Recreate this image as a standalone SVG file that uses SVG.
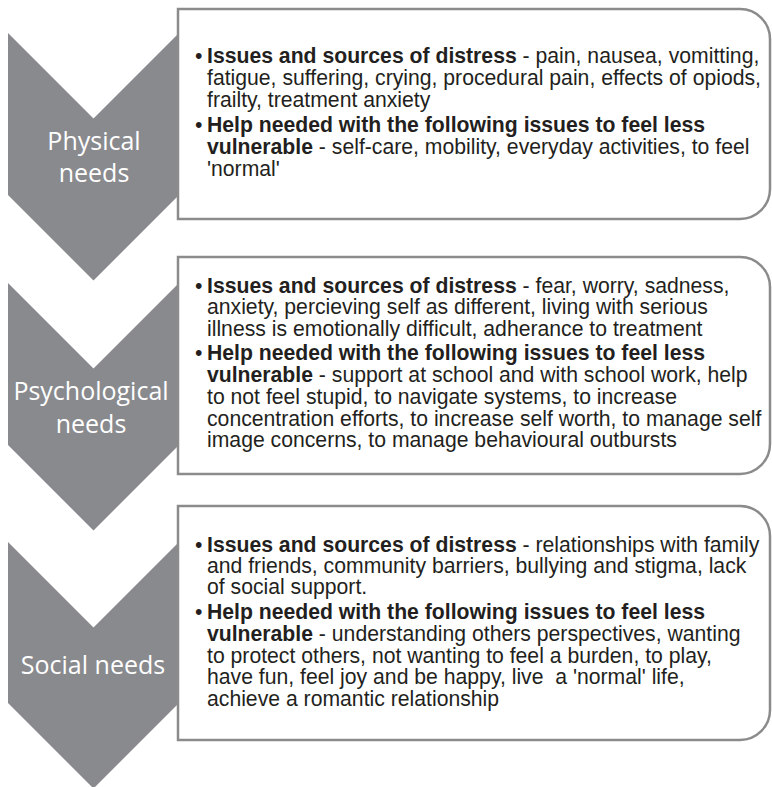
<svg xmlns="http://www.w3.org/2000/svg" width="772" height="787" viewBox="0 0 772 787">
  <style>
    .chev { fill: #898a8e; }
    .box { fill: #ffffff; stroke: #8b8b8b; stroke-width: 2.5; }
    .label { font-family: "Open Sans", "Noto Sans", sans-serif; font-size: 25px; fill: #ffffff; text-anchor: middle; }
    .body { font-family: "Liberation Sans", Arial, sans-serif; font-size: 21.2px; fill: #231f20; white-space: pre; }
    .b { font-weight: bold; }
  </style>
  <rect width="772" height="787" fill="#ffffff"/>

  <!-- Physical needs -->
  <g id="physical-needs">
    <path class="chev" d="M8,33 L93.5,118.5 L179,33 L179,195 L93.5,280.5 L8,195 Z"/>
    <path class="box" d="M178,9 H740 A30,30 0 0 1 770,39 V189 A30,30 0 0 1 740,219 H178 Z"/>
    <text class="label"><tspan x="94" y="150">Physical</tspan><tspan x="94" y="182">needs</tspan></text>
    <text class="body">
      <tspan x="195" y="63">•</tspan><tspan x="207" y="63" class="b">Issues and sources of distress</tspan><tspan> - pain, nausea, vomitting,</tspan>
      <tspan x="207" y="85">fatigue, suffering, crying, procedural pain, effects of opiods,</tspan>
      <tspan x="207" y="107">frailty, treatment anxiety</tspan>
      <tspan x="195" y="132">•</tspan><tspan x="207" y="132" class="b">Help needed with the following issues to feel less</tspan>
      <tspan x="207" y="154" class="b">vulnerable</tspan><tspan> - self-care, mobility, everyday activities, to feel</tspan>
      <tspan x="207" y="176">'normal'</tspan>
    </text>
  </g>

  <!-- Psychological needs -->
  <g id="psychological-needs">
    <path class="chev" d="M8,283 L93.5,368.5 L179,283 L179,445 L93.5,530.5 L8,445 Z"/>
    <path class="box" d="M178,257 H740 A30,30 0 0 1 770,287 V444 A30,30 0 0 1 740,474 H178 Z"/>
    <text class="label"><tspan x="91" y="400">Psychological</tspan><tspan x="91" y="433">needs</tspan></text>
    <text class="body">
      <tspan x="195" y="293">•</tspan><tspan x="207" y="293" class="b">Issues and sources of distress</tspan><tspan> - fear, worry, sadness,</tspan>
      <tspan x="207" y="314">anxiety, percieving self as different, living with serious</tspan>
      <tspan x="207" y="336">illness is emotionally difficult, adherance to treatment</tspan>
      <tspan x="195" y="360">•</tspan><tspan x="207" y="360" class="b">Help needed with the following issues to feel less</tspan>
      <tspan x="207" y="382" class="b">vulnerable</tspan><tspan> - support at school and with school work, help</tspan>
      <tspan x="207" y="404">to not feel stupid, to navigate systems, to increase</tspan>
      <tspan x="207" y="426">concentration efforts, to increase self worth, to manage self</tspan>
      <tspan x="207" y="447">image concerns, to manage behavioural outbursts</tspan>
    </text>
  </g>

  <!-- Social needs -->
  <g id="social-needs">
    <path class="chev" d="M8,542 L93.5,627.5 L179,542 L179,703 L93.5,788.5 L8,703 Z"/>
    <path class="box" d="M178,506 H740 A30,30 0 0 1 770,536 V710 A30,30 0 0 1 740,740 H178 Z"/>
    <text class="label" x="93" y="674">Social needs</text>
    <text class="body">
      <tspan x="195" y="552">•</tspan><tspan x="207" y="552" class="b">Issues and sources of distress</tspan><tspan> - relationships with family</tspan>
      <tspan x="207" y="573">and friends, community barriers, bullying and stigma, lack</tspan>
      <tspan x="207" y="594">of social support.</tspan>
      <tspan x="195" y="619">•</tspan><tspan x="207" y="619" class="b">Help needed with the following issues to feel less</tspan>
      <tspan x="207" y="641" class="b">vulnerable</tspan><tspan> - understanding others perspectives, wanting</tspan>
      <tspan x="207" y="663">to protect others, not wanting to feel a burden, to play,</tspan>
      <tspan x="207" y="684">have fun, feel joy and be happy, live  a 'normal' life,</tspan>
      <tspan x="207" y="706">achieve a romantic relationship</tspan>
    </text>
  </g>

  <g id="connectors"/>
</svg>
